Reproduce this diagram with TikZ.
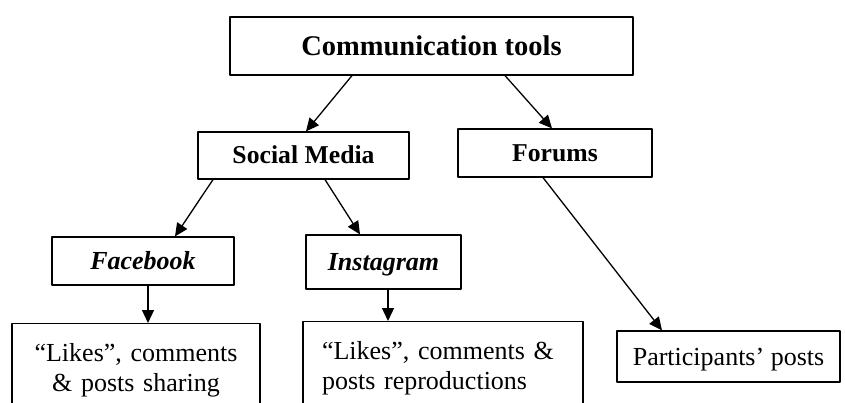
\documentclass[tikz,border=0pt]{standalone}
\usepackage{fontspec}
\setmainfont{Liberation Serif}
\usetikzlibrary{arrows.meta}

\tikzset{
  box/.style={draw,line width=1.2pt,inner sep=0pt},
  toolfont/.style={font=\fontsize{28.5}{32}\selectfont\bfseries,text height=19pt,text depth=0pt},
  kindfont/.style={font=\fontsize{25.7}{30}\selectfont\bfseries,text height=17pt,text depth=0pt},
  itemfont/.style={font=\fontsize{26}{30}\selectfont,text height=17.5pt,text depth=0pt},
  textbox/.style={draw,line width=1.2pt,font=\fontsize{26}{30}\selectfont,anchor=north,inner ysep=20pt},
  link/.style={-{Triangle[length=13pt,width=12pt]},line width=1.3pt}
}

\begin{document}
\begin{tikzpicture}[line cap=round,line join=round,x=1pt,y=-1pt]
			\useasboundingbox (0,0) rectangle (845,403);
			\clip (0,0) rectangle (845,403);
			% boxes
			\node[box,toolfont,minimum width=403pt,minimum height=58pt] (tools) at (431.5,46) {Communication tools};
			\node[box,kindfont,minimum width=211pt,minimum height=47pt] (social) at (303.5,155.5) {Social Media};
			\node[box,kindfont,minimum width=194pt,minimum height=48pt] (forums) at (555,153) {Forums};
			\node[box,itemfont,minimum width=182pt,minimum height=48pt] (fb) at (143,261) {\bfseries\itshape Facebook};
			\node[box,itemfont,minimum width=155pt,minimum height=54pt] (ig) at (383.5,262) {\bfseries\itshape Instagram};
			\node[textbox,inner xsep=8pt,text width=232pt,align=center] (sharing) at (136,323) {``Likes'', comments\\ \& posts sharing};
			\node[textbox,inner xsep=19pt,text width=242pt,align=left] (repro) at (443,321) {``Likes'', comments \&\\ posts reproductions};
			\node[box,itemfont,minimum width=223pt,minimum height=51pt] (posts) at (728.5,356.5) {Participants' posts};
			% arrows
			\draw[link] ([xshift=-79.5pt]tools.south) -- ([xshift=2.5pt]social.north);
			\draw[link] ([xshift=73.5pt]tools.south) -- ([xshift=-3pt]forums.north);
			\draw[link] ([xshift=-90.5pt]social.south) -- ([xshift=32pt]fb.north);
			\draw[link] ([xshift=21.5pt]social.south) -- ([xshift=-23.5pt]ig.north);
			\draw[link] ([xshift=5pt]fb.south) -- ([xshift=12pt]sharing.north);
			\draw[link] ([xshift=4.5pt]ig.south) -- ([xshift=-55pt]repro.north);
			\draw[link] ([xshift=-12pt]forums.south) -- ([xshift=-66.5pt]posts.north);
\end{tikzpicture}
\end{document}
